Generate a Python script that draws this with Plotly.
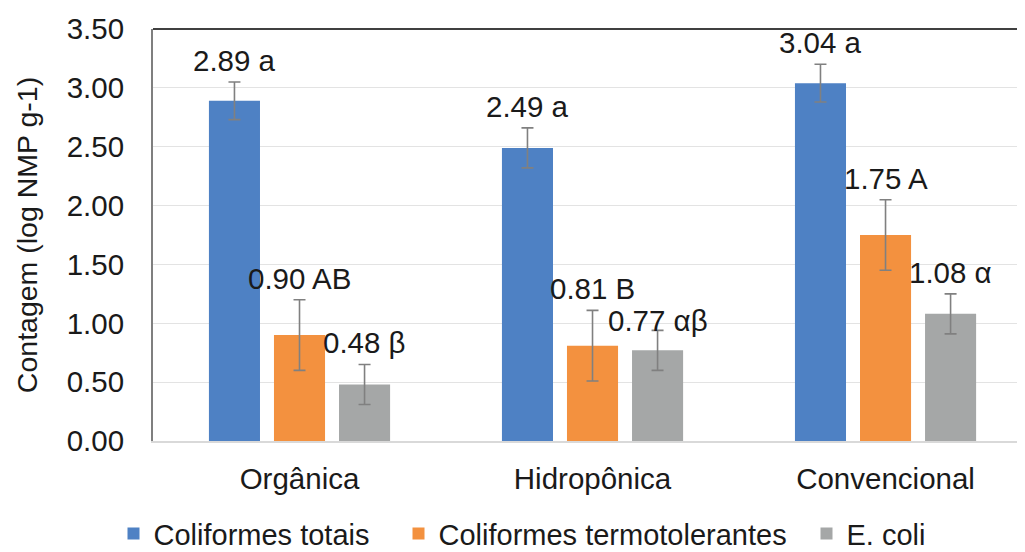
import plotly.graph_objects as go

categories = ["Orgânica", "Hidropônica", "Convencional"]
series_names = ["Coliformes totais", "Coliformes termotolerantes", "E. coli"]
totais = [2.89, 2.49, 3.04]
totais_err = [0.16, 0.17, 0.16]
totais_lbl = ["2.89 a", "2.49 a", "3.04 a"]
termo = [0.90, 0.81, 1.75]
termo_err = [0.30, 0.30, 0.30]
termo_lbl = ["0.90 AB", "0.81 B", "1.75 A"]
ecoli = [0.48, 0.77, 1.08]
ecoli_err = [0.17, 0.17, 0.17]
ecoli_lbl = ["0.48 β", "0.77 αβ", "1.08 α"]
colors = ["#4e81c4", "#f3913f", "#a5a7a7"]
y_ticks = [0, 0.5, 1.0, 1.5, 2.0, 2.5, 3.0, 3.5]

FONT = "Liberation Sans, Arial, sans-serif"
FS = 29.5
W, H = 1017, 544          # page body adds an 8px margin
ML, MT, MB, MR = 145, 21, 111, 0
PW = W - ML - MR

fig = go.Figure()
data = [(totais, totais_err, totais_lbl), (termo, termo_err, termo_lbl), (ecoli, ecoli_err, ecoli_lbl)]
legend_ids = ["legend", "legend2", "legend3"]
for i, (vals, errs, lbls) in enumerate(data):
    fig.add_trace(go.Bar(
        x=categories, y=vals, name=series_names[i],
        marker=dict(color=colors[i], line=dict(width=0)),
        error_y=dict(type="data", array=errs, visible=True, color="#808080", thickness=1.6, width=6),
        offsetgroup=str(i), legend=legend_ids[i],
    ))

# labels above error bars (the Hidropônica E. coli label sits lower, as in the source)
slot = 0.222
for i, (vals, errs, lbls) in enumerate(data):
    for j, c in enumerate(categories):
        shift = -9 if (i == 2 and j == 1) else 3
        fig.add_annotation(
            x=j + (i - 1) * slot, y=vals[j] + errs[j], xref="x", yref="y",
            text=lbls[j], showarrow=False, yanchor="bottom", yshift=shift,
            font=dict(family=FONT, size=FS, color="#1a1a1a"),
        )

def leg(px):
    return dict(orientation="h", x=(px - 8 - 41.5 - ML) / PW, xanchor="left",
                y=-0.163, yanchor="top", bgcolor="rgba(0,0,0,0)",
                font=dict(family=FONT, size=29, color="#1a1a1a"), itemwidth=30)

fig.update_layout(
    width=W, height=H,
    margin=dict(l=ML, r=MR, t=MT, b=MB, autoexpand=False),
    paper_bgcolor="white", plot_bgcolor="white",
    barmode="group", bargap=0.334, bargroupgap=0.215,
    font=dict(family=FONT, size=FS, color="#1a1a1a"),
    showlegend=True,
    legend=leg(155), legend2=leg(440), legend3=leg(848),
    xaxis=dict(type="category", range=[-0.5, 2.476], showgrid=False, automargin=False,
               showline=True, linecolor="#d9d9d9", linewidth=1.5,
               ticks="", ticklabelstandoff=11,
               tickfont=dict(family=FONT, size=FS, color="#1a1a1a")),
    yaxis=dict(range=[0, 3.5], tickvals=y_ticks, ticktext=[f"{v:.2f}" for v in y_ticks],
               showgrid=True, gridcolor="#e3e3e3", gridwidth=1, automargin=False,
               showline=True, linecolor="#7f7f7f", linewidth=2,
               zeroline=False, ticks="", ticklabelstandoff=21,
               tickfont=dict(family=FONT, size=FS, color="#1a1a1a"),
               title=dict(text="Contagem (log NMP g-1)", standoff=21,
                          font=dict(family=FONT, size=28.5, color="#1a1a1a"))),
)
fig.add_shape(type="line", xref="paper", yref="paper", x0=0, x1=1, y0=1, y1=1,
              line=dict(color="#404040", width=2))

fig.write_html("out.html")
